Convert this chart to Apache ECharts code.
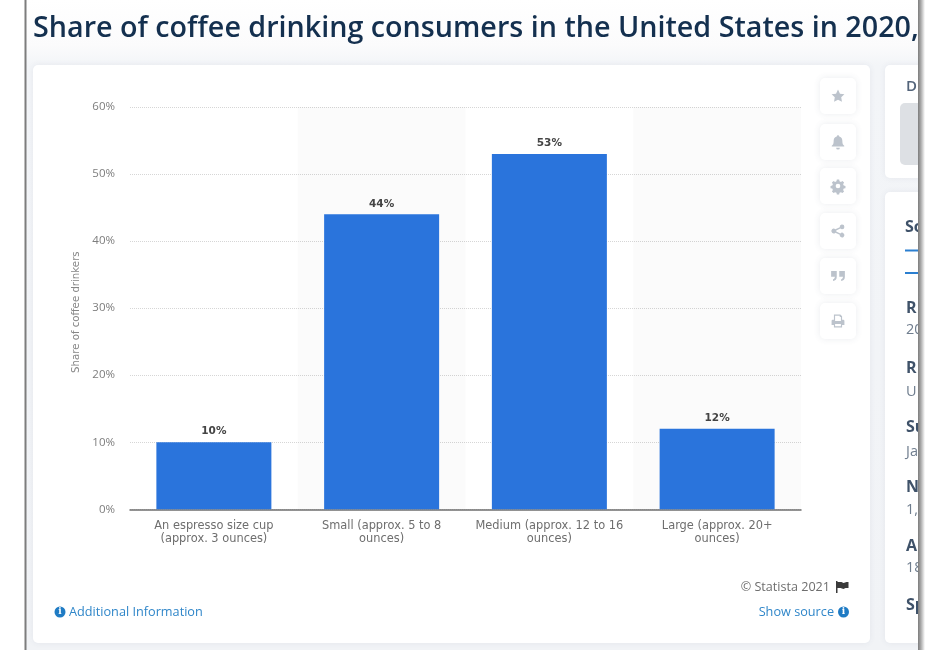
<!DOCTYPE html>
<html>
<head>
<meta charset="utf-8">
<style>html,body{margin:0;padding:0;background:#fff}#chart{width:940px;height:650px}</style>
<script src="https://cdn.jsdelivr.net/npm/echarts@6/dist/echarts.min.js"></script>
</head>
<body>
<div id="chart"></div>
<script>
// Coffee cup size preferences among US coffee drinkers
const categories = [
  'An espresso size cup\n(approx. 3 ounces)',
  'Small (approx. 5 to 8\nounces)',
  'Medium (approx. 12 to 16\nounces)',
  'Large (approx. 20+\nounces)'
];
const shares = [10, 44, 53, 12];
const yTicks = { min: 0, max: 60, interval: 10 };
const titleText = 'Share of coffee drinking consumers in the United States in 2020,';
const yAxisName = 'Share of coffee drinkers';
const sidePanelRows = [
  ['R', '20', 308, 330], ['R', 'U', 368, 392], ['Su', 'Ja', 427, 452],
  ['N', '1,', 487, 510], ['A', '18', 546, 568], ['Sp', '', 605, 0]
];

const BLUE = '#2a74dc';
const LINK = '#2f86c9';
const UI_FONT = '"Open Sans", sans-serif';
const CHART_FONT = '"DejaVu Sans", sans-serif';

// Toolbar glyphs on a 24-unit box: star, bell, gear, share, quote and print
const iconPaths = [
  'M12 1l3.4 7 7.6 1-5.5 5.3 1.3 7.7L12 18.4 5.2 22l1.3-7.7L1 9l7.6-1z',
  'M12 1a2 2 0 0 1 2 2c4 1 5 4 5 8 0 4 1 5 3 7v1H2v-1c2-2 3-3 3-7 0-4 1-7 5-8a2 2 0 0 1 2-2zM9 21h6a3 3 0 0 1-6 0z',
  'M10 1h4l.6 3 2.4 1 2.6-1.6 2.8 2.8-1.6 2.6 1 2.4 3 .6v4l-3 .6-1 2.4 1.6 2.6-2.8 2.8-2.6-1.6-2.4 1-.6 3h-4l-.6-3-2.4-1-2.6 1.6-2.8-2.8 1.6-2.6-1-2.4-3-.6v-4l3-.6 1-2.4-1.6-2.6 2.8-2.8 2.6 1.6 2.4-1zM12 8a4 4 0 1 0 0 8 4 4 0 0 0 0-8z',
  'M19 1a4 4 0 1 1-3 6.7l-7.1 3.3a4 4 0 0 1 0 2l7.1 3.3a4 4 0 1 1-1 2l-7.500-3.500a4 4 0 1 1 0-5.600L15 5.700A4 4 0 0 1 19 1z',
  'M1 4h9v9c0 4-2 6-6 7v-3c2-.5 3-2 3-4H1zM14 4h9v9c0 4-2 6-6 7v-3c2-.5 3-2 3-4h-6z',
  'M5 1h11l3 3v6h2a2 2 0 0 1 2 2v7h-4v4H5v-4H1v-7a2 2 0 0 1 2-2h2zM7 3v9h10V5h-2V3zM7 17v4h10v-4z'
];
const iconBoxes = [
  [78, 14], [124, 15], [168, 14], [213, 14], [258, 15], [303, 14]
];
const flagPath = 'M0 0h1.5v1h4l2 1 3-1h2v6h-3l-2 1-3-1h-3v5H0z';

// Path outlines become named shape classes so graphic elements can use them
iconPaths.forEach((d, i) => echarts.graphic.registerShape('toolbarIcon' + i, echarts.graphic.extendPath(d, {})));
echarts.graphic.registerShape('flagIcon', echarts.graphic.extendPath(flagPath, {}));

function infoIcon(cx, cy) {
  return [
    { type: 'circle', z: 3, shape: { cx, cy, r: 5.5 }, style: { fill: '#1f7bc4' } },
    { type: 'text', z: 4, style: { x: cx, y: cy, text: 'i', fill: '#fff', font: 'bold 9px "DejaVu Serif", serif', align: 'center', verticalAlign: 'middle' } }
  ];
}

const pageBack = [
  { type: 'rect', z: -20, shape: { x: 0, y: 0, width: 940, height: 650 }, style: { fill: '#ffffff' } },
  { type: 'rect', z: -19, shape: { x: 26, y: 0, width: 893, height: 650 },
    style: { fill: { type: 'linear', x: 0, y: 0, x2: 0, y2: 1, colorStops: [
      { offset: 0, color: '#ffffff' }, { offset: 0.07, color: '#fbfbfc' }, { offset: 0.1, color: '#f3f5f8' }, { offset: 1, color: '#f1f3f6' }
    ] } } },
  { type: 'rect', z: -18, shape: { x: 33, y: 65, width: 837, height: 578, r: 5 },
    style: { fill: '#ffffff', shadowBlur: 6, shadowColor: 'rgba(60,80,110,0.08)' } },
  { type: 'rect', z: -18, shape: { x: 885, y: 65, width: 60, height: 113, r: 5 },
    style: { fill: '#ffffff', shadowBlur: 6, shadowColor: 'rgba(60,80,110,0.08)' } },
  { type: 'rect', z: -18, shape: { x: 885, y: 192, width: 60, height: 451, r: 5 },
    style: { fill: '#ffffff', shadowBlur: 6, shadowColor: 'rgba(60,80,110,0.08)' } },
  { type: 'rect', z: -17, shape: { x: 900, y: 103, width: 30, height: 62, r: 5 }, style: { fill: '#dde0e4' } },
  { type: 'rect', z: 1, shape: { x: 905, y: 249.5, width: 25, height: 2 }, style: { fill: '#2b7fd0' } },
  { type: 'rect', z: 1, shape: { x: 905, y: 272, width: 25, height: 2 }, style: { fill: '#2b7fd0' } }
];

const pageText = [
  { type: 'text', z: 2, style: { x: 33, y: 29, text: titleText, fill: '#14304f', font: '600 28.7px ' + UI_FONT, verticalAlign: 'middle' } },
  { type: 'text', z: 2, style: { x: 906, y: 87, text: 'D', fill: '#53647a', font: '600 15px ' + UI_FONT, verticalAlign: 'middle' } },
  { type: 'text', z: 2, style: { x: 905, y: 227, text: 'So', fill: '#3f5269', font: 'bold 16px ' + UI_FONT, verticalAlign: 'middle' } },
  { type: 'text', z: 2, style: { x: 830, y: 587, text: '© Statista 2021', fill: '#6e6e6e', font: '12.6px ' + UI_FONT, align: 'right', verticalAlign: 'middle' } },
  { type: 'flagIcon', z: 2, x: 836, y: 581, style: { fill: '#3a3a3a' } },
  { type: 'text', z: 2, style: { x: 69, y: 612, text: 'Additional Information', fill: LINK, font: '12.7px ' + UI_FONT, verticalAlign: 'middle' } },
  { type: 'text', z: 2, style: { x: 834, y: 612, text: 'Show source', fill: LINK, font: '12.7px ' + UI_FONT, align: 'right', verticalAlign: 'middle' } },
  ...infoIcon(60, 612),
  ...infoIcon(843.5, 612)
];

const sideRows = sidePanelRows.flatMap(([head, value, y1, y2]) => {
  const row = [{ type: 'text', z: 2, style: { x: 906, y: y1, text: head, fill: '#3f5269', font: 'bold 16px ' + UI_FONT, verticalAlign: 'middle' } }];
  if (value) row.push({ type: 'text', z: 2, style: { x: 906, y: y2, text: value, fill: '#6f7d8e', font: '14.5px ' + UI_FONT, verticalAlign: 'middle' } });
  return row;
});

const toolbar = iconBoxes.flatMap(([top, size], i) => [
  { type: 'rect', z: 1, shape: { x: 820, y: top, width: 36, height: 36, r: 5 },
    style: { fill: '#ffffff', shadowBlur: 7, shadowColor: 'rgba(60,80,110,0.11)' } },
  { type: 'toolbarIcon' + i, z: 2, x: 838 - size / 2, y: top + 18 - size / 2, scaleX: size / 24, scaleY: size / 24,
    style: { fill: '#bcc3cc' } }
]);

// Soft edge where the page is cut off on the right, which also hides overflowing text
const rightEdge = [
  { type: 'rect', z: 20, shape: { x: 918, y: 0, width: 22, height: 650 }, style: { fill: '#ffffff' } },
  { type: 'rect', z: 21, shape: { x: 918, y: 0, width: 7, height: 650 },
    style: { fill: { type: 'linear', x: 0, y: 0, x2: 1, y2: 0, colorStops: [
      { offset: 0, color: '#7c7c7c' }, { offset: 0.4, color: '#a8a8a8' }, { offset: 1, color: '#ffffff' }
    ] } } },
  { type: 'rect', z: 21, shape: { x: 24.5, y: 0, width: 2, height: 650 }, style: { fill: '#7d7d7d' } }
];

const chart = echarts.init(document.getElementById('chart'), null, { renderer: 'canvas' });
chart.setOption({
  animation: false,
  backgroundColor: 'transparent',
  textStyle: { fontFamily: UI_FONT },
  grid: { left: 130, right: 139, top: 107, height: 402.3, containLabel: false },
  xAxis: {
    type: 'category',
    data: categories,
    axisTick: { show: false },
    axisLine: { lineStyle: { color: '#6f6f6f', width: 1.5 } },
    axisLabel: { color: '#6e6e6e', fontFamily: CHART_FONT, fontSize: 11.4, lineHeight: 13, margin: 10, interval: 0 },
    splitArea: { show: true, areaStyle: { color: ['rgba(0,0,0,0)', 'rgba(0,0,0,0.015)'] } }
  },
  yAxis: {
    type: 'value',
    min: yTicks.min,
    max: yTicks.max,
    interval: yTicks.interval,
    name: yAxisName,
    nameLocation: 'middle',
    nameGap: 48,
    nameRotate: 90,
    nameTextStyle: { color: '#868686', fontFamily: CHART_FONT, fontSize: 10.2, padding: [0, 8, 0, 0] },
    axisLine: { show: false },
    axisTick: { show: false },
    axisLabel: { color: '#7d7d7d', fontFamily: UI_FONT, fontSize: 11.5, margin: 15, padding: [2, 0, 0, 0], formatter: '{value}%' },
    splitLine: { lineStyle: { color: '#d6d6d6', type: 'dotted', width: 1 } }
  },
  series: [{
    type: 'bar',
    data: shares,
    barWidth: 115,
    itemStyle: { color: BLUE },
    label: {
      show: true,
      position: 'top',
      distance: 5,
      formatter: '{c}%',
      color: '#444444',
      fontFamily: CHART_FONT,
      fontWeight: 'bold',
      fontSize: 10.5
    }
  }],
  graphic: { elements: [...pageBack, ...pageText, ...sideRows, ...toolbar, ...rightEdge] }
});
</script>
</body>
</html>
